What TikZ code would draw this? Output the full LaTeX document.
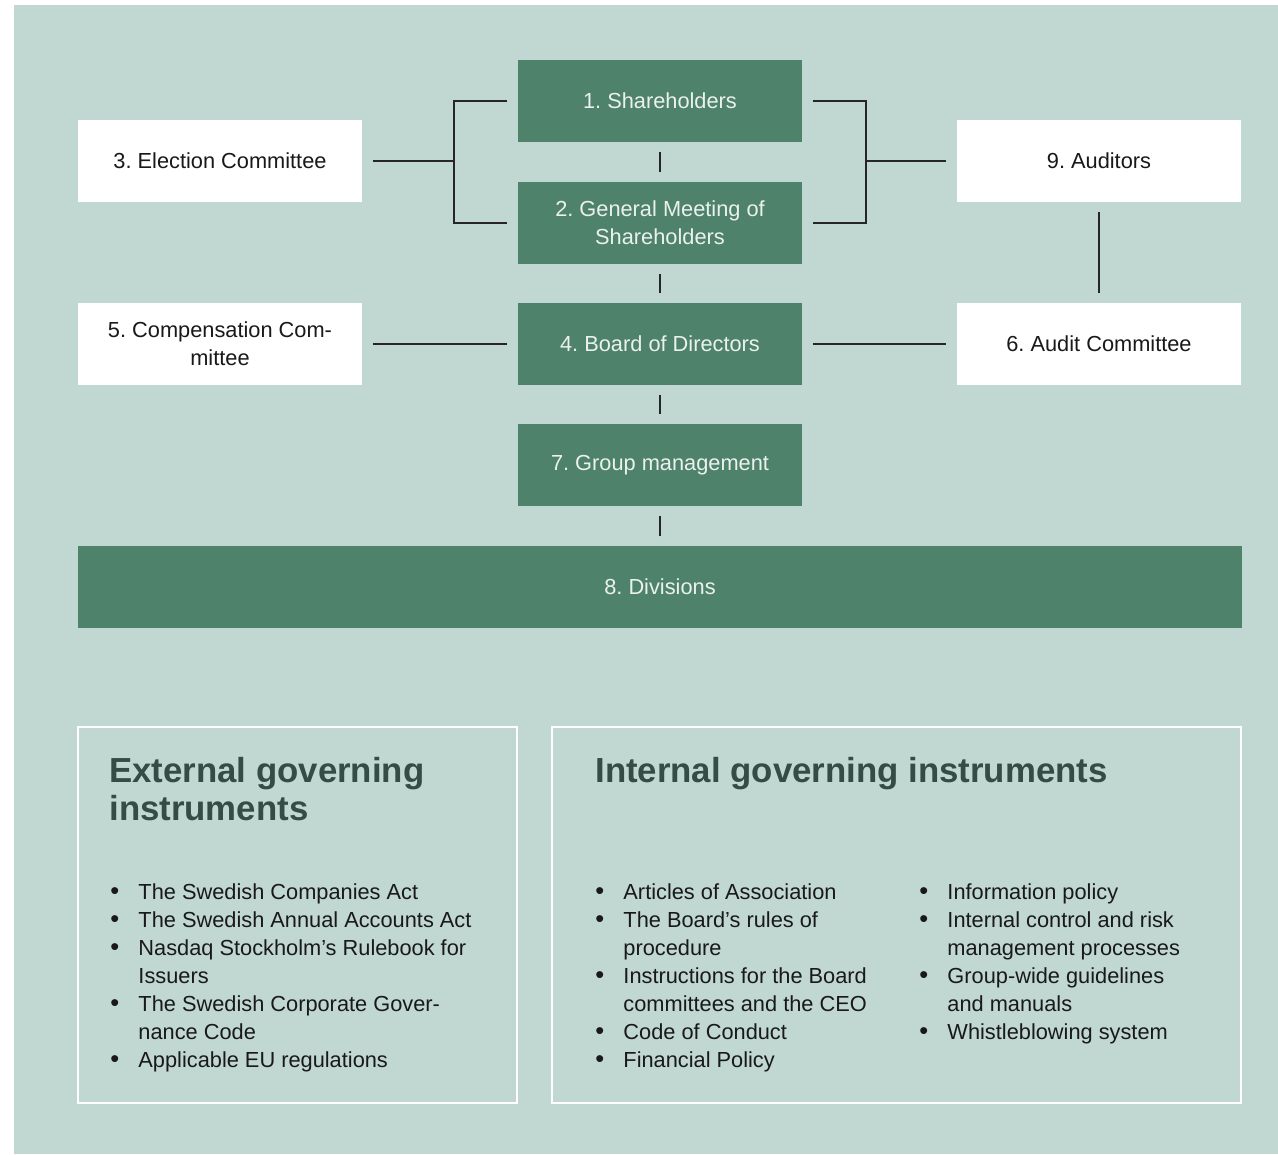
\documentclass[tikz,border=0pt]{standalone}
\usepackage{fontspec}
\setmainfont{Liberation Sans}
\usepackage{array}
\frenchspacing

\definecolor{bggreen}{RGB}{193,215,209}
\definecolor{boxgreen}{RGB}{78,130,106}
\definecolor{headgreen}{RGB}{53,75,70}
\definecolor{boxtext}{RGB}{234,241,238}

\newcommand{\bodysize}{\fontsize{12.4}{15.9}\selectfont}
\newcommand{\headsize}{\fontsize{19.8}{21.5}\selectfont}
\newcommand{\bul}{{\fontsize{14.5}{15.9}\selectfont\textbullet}}

\begin{document}
\begin{tikzpicture}[x=0.02cm, y=-0.02cm,
	darkbox/.style={fill=boxgreen, text=boxtext, minimum width=5.7cm, minimum height=1.64cm, align=center, font=\bodysize, inner sep=0},
	whitebox/.style={fill=white, text=black!90, minimum width=5.7cm, minimum height=1.64cm, align=center, font=\bodysize, inner sep=0},
	link/.style={draw=black!85, line width=0.85pt, shorten <=0.2cm, shorten >=0.2cm},
	frame/.style={draw=white, line width=1.4pt},
	heading/.style={anchor=north west, inner sep=0, text=headgreen, font=\headsize\bfseries, align=left},
	bullets/.style={anchor=north west, inner sep=0, text=black!90, font=\bodysize}]
	\useasboundingbox (0,0) rectangle (1278,1154);
	\fill[bggreen] (14,5) rectangle (1278,1154);
	% centre column
	\node[darkbox] (sh) at (660,101) {1. Shareholders};
	\node[darkbox] (gm) at (660,223) {2. General Meeting of\\Shareholders};
	\node[darkbox] (bd) at (660,344) {4. Board of Directors};
	\node[darkbox] (gmt) at (660,465) {7. Group management};
	\node[darkbox, minimum width=23.28cm] (div) at (660,587) {8. Divisions};
	% side boxes
	\node[whitebox] (ec) at (220,161) {3. Election Committee};
	\node[whitebox] (cc) at (220,344) {5. Compensation Com-\\mittee};
	\node[whitebox] (aud) at (1099,161) {9. Auditors};
	\node[whitebox] (ac) at (1099,344) {6. Audit Committee};
	\coordinate (lb) at (454,161);
	\coordinate (rb) at (866,161);
	% connectors
	\draw[link] (sh.west) -| (lb) |- (gm.west);
	\draw[link, shorten >=0] (ec.east) -- (lb);
	\draw[link] (sh.east) -| (rb) |- (gm.east);
	\draw[link, shorten >=0] (aud.west) -- (rb);
	\draw[link] (sh) -- (gm);
	\draw[link] (gm) -- (bd);
	\draw[link] (bd) -- (gmt);
	\draw[link] (gmt) -- (div);
	\draw[link] (bd) -- (cc);
	\draw[link] (bd) -- (ac);
	\draw[link] (aud) -- (ac);
	% governing instruments
	\draw[frame] (78,727) rectangle (517,1103);
	\draw[frame] (552,727) rectangle (1241,1103);
	\node[heading] (exthead) at (109,757) {External governing\\instruments};
	\node[heading] (inthead) at (595,757) {Internal governing instruments};
	\node[bullets] (extlist) at (110,880) {\begin{tabular}{@{}p{16pt}@{}l@{}}
		\bul & The Swedish Companies Act\\
		\bul & The Swedish Annual Accounts Act\\
		\bul & Nasdaq Stockholm’s Rulebook for\\
		 & Issuers\\
		\bul & The Swedish Corporate Gover-\\
		 & nance Code\\
		\bul & Applicable EU regulations
	\end{tabular}};
	\node[bullets] (intlist) at (595,880) {\begin{tabular}{@{}p{16pt}@{}l@{}}
		\bul & Articles of Association\\
		\bul & The Board’s rules of\\
		 & procedure\\
		\bul & Instructions for the Board\\
		 & committees and the CEO\\
		\bul & Code of Conduct\\
		\bul & Financial Policy
	\end{tabular}};
	\node[bullets] (intlist2) at (919,880) {\begin{tabular}{@{}p{16pt}@{}l@{}}
		\bul & Information policy\\
		\bul & Internal control and risk\\
		 & management processes\\
		\bul & Group-wide guidelines\\
		 & and manuals\\
		\bul & Whistleblowing system
	\end{tabular}};
\end{tikzpicture}
\end{document}
